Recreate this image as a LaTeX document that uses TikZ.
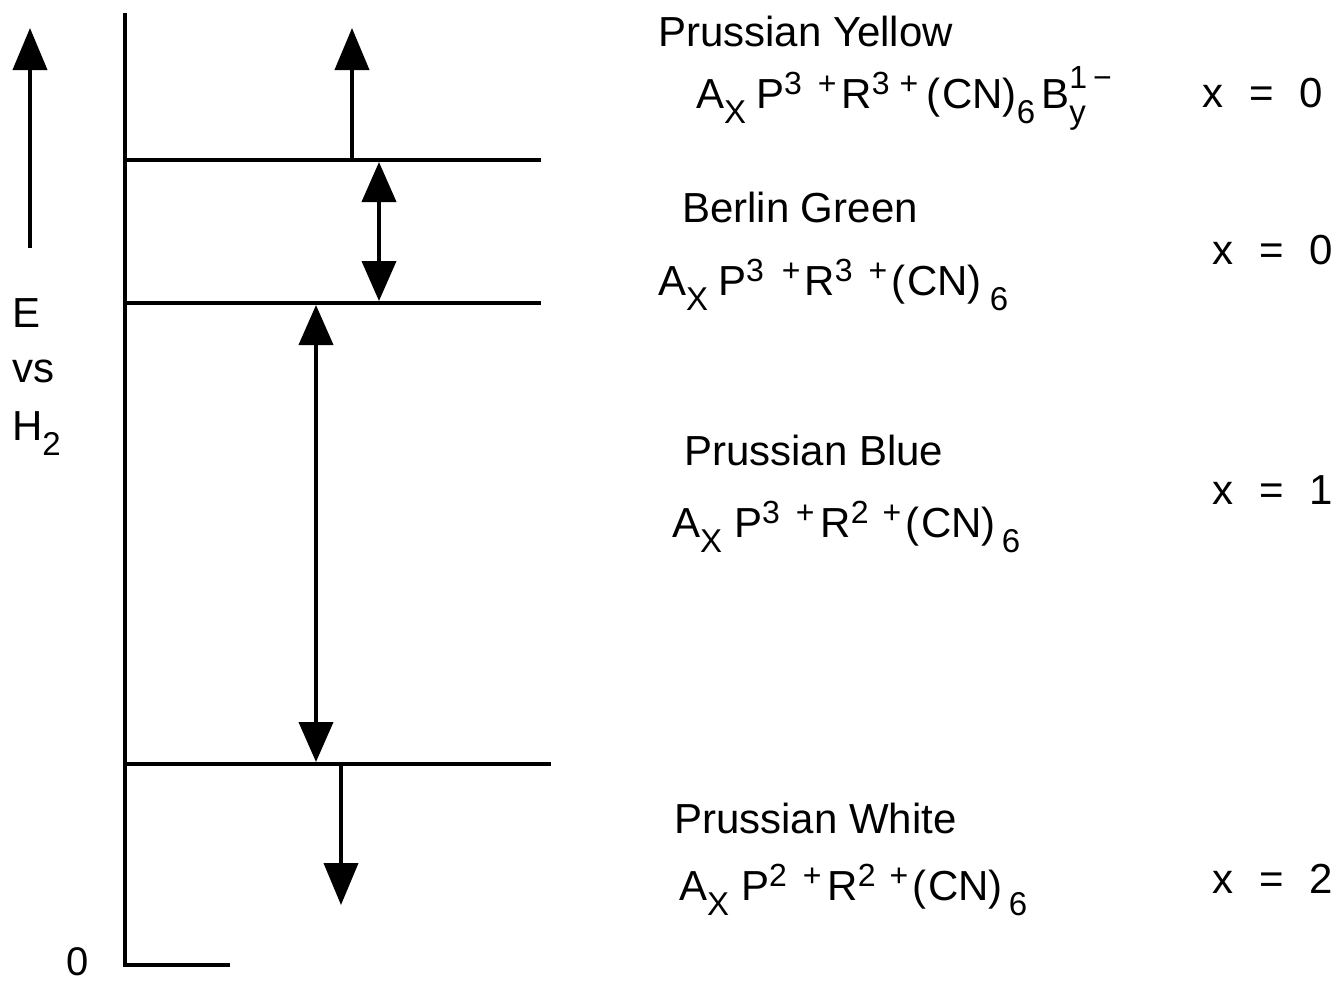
\documentclass[tikz,border=0pt]{standalone}
\usepackage{fontspec}
\setmainfont{Liberation Sans}
\usetikzlibrary{arrows.meta}
\newcommand{\lo}[1]{\raisebox{-7.5pt}{\fontsize{16.5}{17}\selectfont #1}}
\newcommand{\hi}[1]{\raisebox{7pt}{\fontsize{16}{17}\selectfont #1}}
\newcommand{\hhi}[1]{\raisebox{10pt}{\fontsize{16}{17}\selectfont #1}}
\begin{document}
\begin{tikzpicture}[x=0.5pt,y=-0.5pt,line width=2pt,
  lbl/.style={inner sep=0pt,anchor=base west,font=\fontsize{21}{25}\selectfont},
  tip/.style={-{Triangle[width=17pt,length=21pt]}},
  dbl/.style={{Triangle[width=17pt,length=20pt]}-{Triangle[width=17pt,length=20pt]}}]
\useasboundingbox (0,0) rectangle (1334,981);
% axis
\coordinate (axT) at (125,13);
\coordinate (axB) at (125,965);
\coordinate (axR) at (230,965);
\draw[line join=miter] (axT) -- (axB) -- (axR);
% levels
\coordinate (l1L) at (125,160); \coordinate (l1R) at (541,160);
\coordinate (l2L) at (125,303); \coordinate (l2R) at (541,303);
\coordinate (l3L) at (125,764); \coordinate (l3R) at (551,764);
\draw (l1L) -- (l1R);
\draw (l2L) -- (l2R);
\draw (l3L) -- (l3R);
% arrows
\coordinate (eB) at (30,248); \coordinate (eT) at (30,28);
\draw[tip] (eB) -- (eT);
\coordinate (a1B) at (352,160); \coordinate (a1T) at (352,28);
\draw[tip] (a1B) -- (a1T);
\coordinate (a2T) at (379,162); \coordinate (a2B) at (379,301);
\draw[dbl] (a2T) -- (a2B);
\coordinate (a3T) at (316,305); \coordinate (a3B) at (316,762);
\draw[dbl] (a3T) -- (a3B);
\coordinate (a4T) at (341,764); \coordinate (a4B) at (341,905);
\draw[tip] (a4T) -- (a4B);
% left labels
\node[lbl] (E) at (10,327) {E};
\node[lbl] (vs) at (10,382) {vs};
\node[lbl] (H) at (10,440) {H\lo{2}};
\node[lbl,font=\fontsize{20}{22}\selectfont] (zero) at (64,975) {0};
% titles
\node[lbl] (tY) at (656,46) {Prussian Yellow};
\node[lbl] (fY) at (694,108) {A\lo{X}\hspace{5pt}P\hi{3\hspace{8pt}+}\hspace{2.5pt}R\hi{3\hspace{5pt}+}\hspace{4pt}(\hspace{1pt}CN)\lo{6}\hspace{3pt}B\rlap{\lo{y}}\hhi{1\hspace{3pt}\textminus}};
\node[lbl] (xY) at (1200,107) {x\hspace{13pt}=\hspace{13pt}0};
\node[lbl] (tG) at (680,222) {Berlin Green};
\node[lbl] (fG) at (656,295) {A\lo{X}\hspace{5pt}P\hi{3\hspace{9pt}+}\hspace{2pt}R\hi{3\hspace{8pt}+}\hspace{2pt}(\hspace{1pt}CN)\hspace{4pt}\lo{6}};
\node[lbl] (xG) at (1210,264) {x\hspace{13pt}=\hspace{13pt}0};
\node[lbl] (tB) at (682,465) {Prussian Blue};
\node[lbl] (fB) at (670,537) {A\lo{X}\hspace{6pt}P\hi{3\hspace{8pt}+}\hspace{3pt}R\hi{2\hspace{7pt}+}\hspace{2pt}(\hspace{1pt}CN)\hspace{3pt}\lo{6}};
\node[lbl] (xB) at (1210,504) {x\hspace{13pt}=\hspace{13pt}1};
\node[lbl] (tW) at (672,833) {Prussian White};
\node[lbl] (fW) at (677,900) {A\lo{X}\hspace{6pt}P\hi{2\hspace{8pt}+}\hspace{3pt}R\hi{2\hspace{7pt}+}\hspace{2pt}(\hspace{1pt}CN)\hspace{3pt}\lo{6}};
\node[lbl] (xW) at (1210,893) {x\hspace{13pt}=\hspace{13pt}2};
\end{tikzpicture}
\end{document}
